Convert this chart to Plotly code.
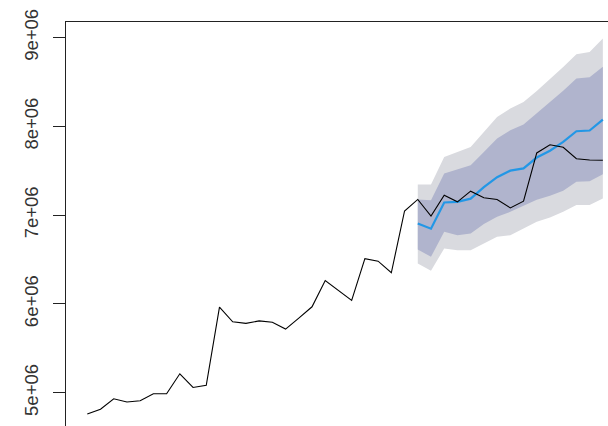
import plotly.graph_objects as go

# Observed series (full history plus held-out period), one value per period
observed = [
    4.760e6, 4.814e6, 4.932e6, 4.895e6, 4.910e6, 4.988e6, 4.988e6, 5.213e6,
    5.059e6, 5.084e6, 5.965e6, 5.799e6, 5.781e6, 5.809e6, 5.793e6, 5.717e6,
    5.841e6, 5.968e6, 6.263e6, 6.150e6, 6.040e6, 6.510e6, 6.482e6, 6.351e6,
    7.047e6, 7.177e6, 6.989e6, 7.225e6, 7.150e6, 7.270e6, 7.195e6, 7.177e6,
    7.082e6, 7.158e6, 7.701e6, 7.793e6, 7.765e6, 7.636e6, 7.622e6, 7.619e6,
]
periods = list(range(len(observed)))

# Forecast horizon starts at period 25
fc_start = 25
fc_mean = [
    6.907e6, 6.848e6, 7.143e6, 7.149e6, 7.186e6, 7.315e6, 7.428e6, 7.501e6,
    7.526e6, 7.649e6, 7.726e6, 7.825e6, 7.945e6, 7.953e6, 8.077e6,
]
lo80 = [
    6.614e6, 6.531e6, 6.812e6, 6.775e6, 6.794e6, 6.899e6, 6.981e6, 7.037e6,
    7.101e6, 7.174e6, 7.219e6, 7.276e6, 7.377e6, 7.383e6, 7.461e6,
]
hi80 = [
    7.177e6, 7.169e6, 7.469e6, 7.514e6, 7.563e6, 7.712e6, 7.863e6, 7.957e6,
    8.021e6, 8.148e6, 8.272e6, 8.401e6, 8.539e6, 8.553e6, 8.671e6,
]
lo95 = [
    6.456e6, 6.373e6, 6.625e6, 6.606e6, 6.606e6, 6.681e6, 6.756e6, 6.775e6,
    6.854e6, 6.925e6, 6.974e6, 7.039e6, 7.113e6, 7.113e6, 7.188e6,
]
hi95 = [
    7.346e6, 7.346e6, 7.656e6, 7.712e6, 7.769e6, 7.937e6, 8.106e6, 8.201e6,
    8.275e6, 8.398e6, 8.531e6, 8.669e6, 8.812e6, 8.838e6, 8.989e6,
]
fc_periods = list(range(fc_start, fc_start + len(fc_mean)))

y_tick_vals = [5e6, 6e6, 7e6, 8e6, 9e6]
y_tick_text = ["5e+06", "6e+06", "7e+06", "8e+06", "9e+06"]

fig = go.Figure()


def band(lower, upper, color):
    return go.Scatter(
        x=fc_periods + fc_periods[::-1],
        y=upper + lower[::-1],
        fill="toself",
        fillcolor=color,
        line=dict(width=0),
        mode="lines",
        hoverinfo="skip",
        showlegend=False,
    )


fig.add_trace(band(lo95, hi95, "#D9DADF"))
fig.add_trace(band(lo80, hi80, "#B0B4CD"))

fig.add_trace(go.Scatter(
    x=fc_periods, y=fc_mean, mode="lines",
    line=dict(color="#2297E6", width=2.2),
    showlegend=False,
))
fig.add_trace(go.Scatter(
    x=periods, y=observed, mode="lines",
    line=dict(color="#000000", width=1.1),
    showlegend=False,
))

fig.update_layout(
    width=608,
    height=426,
    margin=dict(l=66, r=0, t=22, b=0),
    paper_bgcolor="white",
    plot_bgcolor="white",
    font=dict(family="Liberation Sans, Arial, sans-serif", color="#222222"),
    xaxis=dict(
        range=[-1.61, 39.39],
        side="top",
        showline=True,
        linecolor="#222222",
        linewidth=1,
        showgrid=False,
        zeroline=False,
        showticklabels=False,
        ticks="",
    ),
    yaxis=dict(
        range=[4.6252e6, 9.1755e6],
        showline=True,
        linecolor="#222222",
        linewidth=1,
        showgrid=False,
        zeroline=False,
        ticks="outside",
        ticklen=12,
        tickwidth=1,
        tickcolor="#222222",
        tickvals=y_tick_vals,
        ticktext=y_tick_text,
        tickangle=-90,
        ticklabelstandoff=8,
        tickfont=dict(size=18.5, color="#333333"),
    ),
)

fig.write_html("out.html")
